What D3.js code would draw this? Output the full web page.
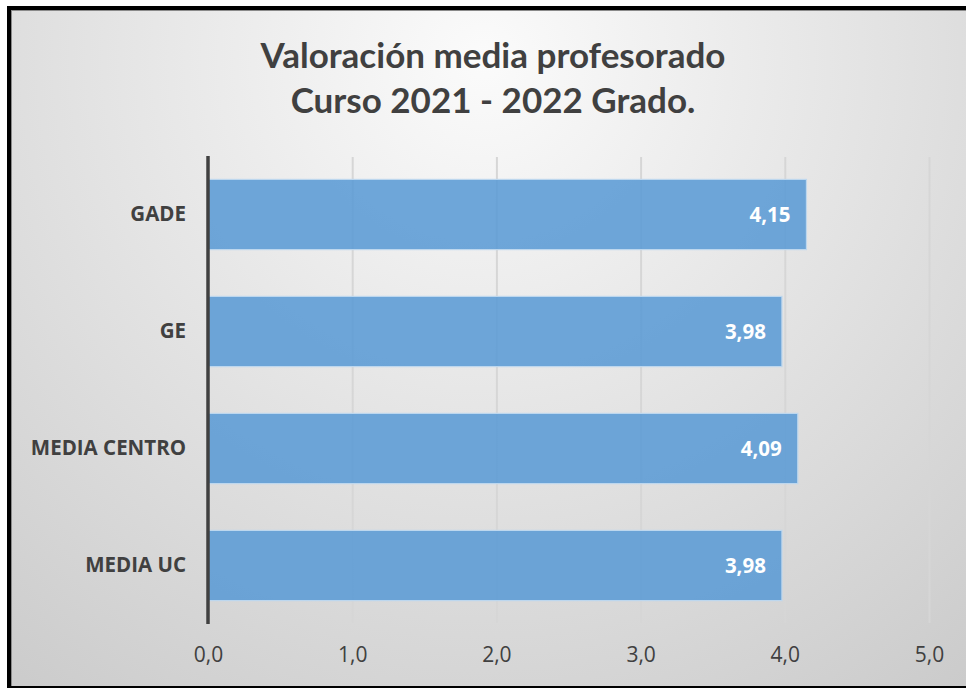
<!DOCTYPE html>
<html><head><meta charset="utf-8">
<script src="https://cdn.jsdelivr.net/npm/d3@7"></script>
<style>html,body{margin:0;padding:0;background:#fff;}svg{display:block;}</style>
</head><body>
<svg id="c" width="966" height="689"></svg>
<script>
const categories = ["GADE", "GE", "MEDIA CENTRO", "MEDIA UC"];
const values = [4.15, 3.98, 4.09, 3.98];
const valueLabels = ["4,15", "3,98", "4,09", "3,98"];
const tickValues = [0, 1, 2, 3, 4, 5];
const tickLabels = ["0,0", "1,0", "2,0", "3,0", "4,0", "5,0"];
const titleLines = ["Valoración media profesorado", "Curso 2021 - 2022 Grado."];

const svg = d3.select("#c");
const defs = svg.append("defs");
const g1 = defs.append("radialGradient").attr("id","bg")
  .attr("gradientUnits","userSpaceOnUse").attr("cx",483).attr("cy",60).attr("r",900)
  .attr("fx",483).attr("fy",60);
g1.append("stop").attr("offset",0).attr("stop-color","#fbfbfb");
g1.append("stop").attr("offset",0.75).attr("stop-color","#d2d2d2");
g1.append("stop").attr("offset",1).attr("stop-color","#c4c4c4");
const gl = defs.append("linearGradient").attr("id","gridc")
  .attr("gradientUnits","userSpaceOnUse").attr("x1",0).attr("x2",0).attr("y1",157).attr("y2",623);
gl.append("stop").attr("offset",0).attr("stop-color","#d6d6d6");
gl.append("stop").attr("offset",0.5).attr("stop-color","#b0b0b0");
gl.append("stop").attr("offset",1).attr("stop-color","#7a7a7a");

// outer black frame
svg.append("rect").attr("x",0).attr("y",0).attr("width",966).attr("height",689).attr("fill","#fff");
svg.append("rect").attr("x",7).attr("y",6).attr("width",970).attr("height",682).attr("fill","#000");
svg.append("rect").attr("x",11).attr("y",10).attr("width",966).attr("height",676).attr("fill","#8a8a8a");
svg.append("rect").attr("x",12).attr("y",11).attr("width",966).attr("height",675).attr("fill","url(#bg)");

// title
const title = svg.append("text").attr("text-anchor","middle")
  .attr("font-family","Lato, 'Open Sans', sans-serif").attr("font-weight","bold")
  .attr("font-size",35).attr("fill","#404040");
titleLines.forEach((t,i)=>{
  title.append("tspan").attr("x",493).attr("y",68+i*45).text(t);
});

const x = d3.scaleLinear().domain([0,5]).range([208,929]);
const y = d3.scaleBand().domain(categories).range([156,624]).paddingInner(0.4).paddingOuter(0.2);

// gridlines via axis
const gridAxis = d3.axisBottom(x).tickValues(tickValues.slice(1)).tickSize(-(623-157)).tickFormat("");
const gg = svg.append("g").attr("transform","translate(0,623)").call(gridAxis);
gg.select(".domain").remove();
gg.selectAll("line").attr("stroke","url(#gridc)").attr("stroke-width",2);

// bars
svg.append("g").selectAll("rect").data(categories).join("rect")
  .attr("x",x(0)).attr("y",d=>y(d)).attr("height",y.bandwidth())
  .attr("width",(d,i)=>x(values[i])-x(0))
  .attr("fill","#5b9bd5").attr("fill-opacity",0.88)
  .attr("stroke","#bdd7ee").attr("stroke-width",1.2);

// value labels
svg.append("g").selectAll("text").data(categories).join("text")
  .attr("x",(d,i)=>x(values[i])-16).attr("y",d=>y(d)+y.bandwidth()/2)
  .attr("dy","0.35em").attr("text-anchor","end")
  .attr("font-family","'Open Sans', sans-serif").attr("font-weight","bold")
  .attr("font-size",20.5).attr("fill","#fff")
  .text((d,i)=>valueLabels[i]);

// y axis
const yAxis = d3.axisLeft(y).tickSize(0).tickPadding(22);
const ya = svg.append("g").attr("transform","translate(208,0)").call(yAxis);
ya.select(".domain").remove();
ya.selectAll("text").attr("font-family","'Open Sans', sans-serif").attr("font-weight","bold")
  .attr("font-size",20.5).attr("fill","#404040");
svg.append("line").attr("x1",208).attr("x2",208).attr("y1",156).attr("y2",624)
  .attr("stroke","#404040").attr("stroke-width",3.5);

// x axis labels
const xAxis = d3.axisBottom(x).tickValues(tickValues).tickSize(0).tickPadding(24)
  .tickFormat((d,i)=>tickLabels[i]);
const xa = svg.append("g").attr("transform","translate(0,623)").call(xAxis);
xa.select(".domain").remove();
xa.selectAll("text").attr("font-family","'Open Sans', sans-serif")
  .attr("font-size",21).attr("fill","#404040");
</script>
</body></html>
